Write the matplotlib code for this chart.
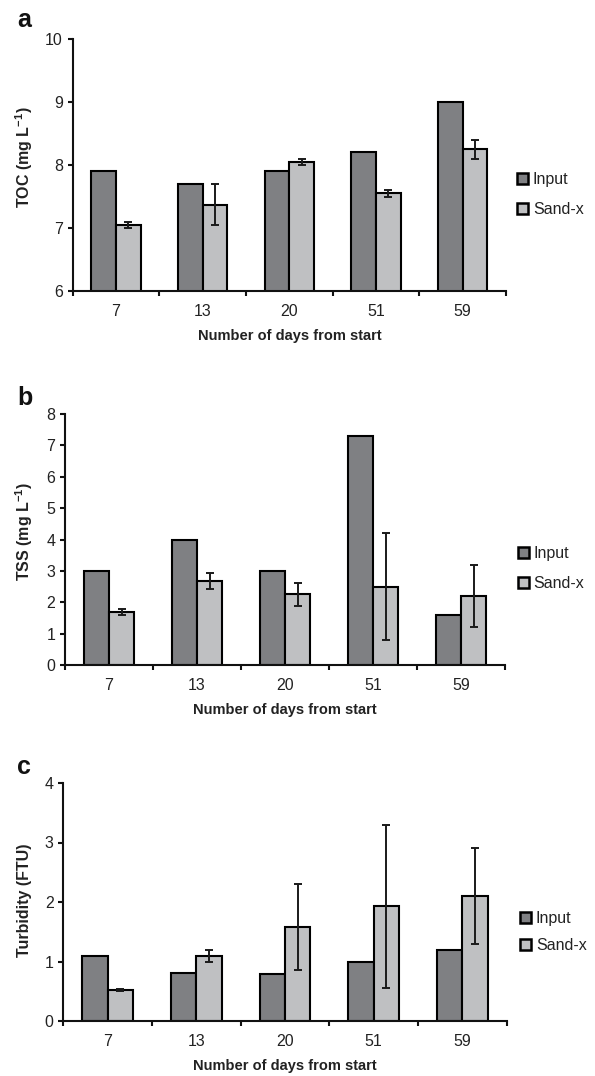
import matplotlib
matplotlib.use("Agg")
import matplotlib.pyplot as plt
import numpy as np

plt.rcParams['font.family'] = ['Liberation Sans', 'DejaVu Sans']
plt.rcParams['mathtext.fontset'] = 'custom'
plt.rcParams['mathtext.rm'] = 'Liberation Sans'
plt.rcParams['mathtext.bf'] = 'Liberation Sans:bold'

# ---- data ----
days = ['7', '13', '20', '51', '59']
series_names = ['Input', 'Sand-x']

toc_input = [7.9, 7.7, 7.9, 8.2, 9.0]
toc_sand = [7.05, 7.37, 8.05, 7.55, 8.25]
toc_sand_err = [0.05, 0.33, 0.05, 0.05, 0.15]

tss_input = [3.0, 4.0, 3.0, 7.3, 1.6]
tss_sand = [1.7, 2.67, 2.25, 2.5, 2.2]
tss_sand_err = [0.1, 0.25, 0.36, 1.7, 1.0]

turb_input = [1.1, 0.8, 0.79, 1.0, 1.2]
turb_sand = [0.52, 1.1, 1.58, 1.93, 2.1]
turb_sand_err = [0.02, 0.1, 0.73, 1.37, 0.8]

toc_ticks = [6, 7, 8, 9, 10]
tss_ticks = [0, 1, 2, 3, 4, 5, 6, 7, 8]
turb_ticks = [0, 1, 2, 3, 4]

DARK = '#7f8083'
LIGHT = '#bfc0c2'
W, H = 595, 1076

fig = plt.figure(figsize=(W / 100, H / 100), dpi=100)

def px_axes(l, r, t, b):
    return fig.add_axes([l / W, 1 - b / H, (r - l) / W, (b - t) / H])

panels = [
    dict(box=(72.7, 506, 39, 291), inp=toc_input, sand=toc_sand, err=toc_sand_err,
         ticks=toc_ticks, ylabel=r'TOC (mg L$^{\mathbf{-1}}$)', letter='a',
         letter_base=27, ylab_x=24, ylab_y=157, leg_left=517, leg_y=194.5, spacing=0.9),
    dict(box=(65, 505, 414, 665), inp=tss_input, sand=tss_sand, err=tss_sand_err,
         ticks=tss_ticks, ylabel=r'TSS (mg L$^{\mathbf{-1}}$)', letter='b',
         letter_base=405, ylab_x=24.5, ylab_y=532, leg_left=517.7, leg_y=568.5, spacing=0.9),
    dict(box=(63.3, 506.7, 783, 1021), inp=turb_input, sand=turb_sand, err=turb_sand_err,
         ticks=turb_ticks, ylabel='Turbidity (FTU)', letter='c',
         letter_base=774, ylab_x=25, ylab_y=900, leg_left=520, leg_y=932, spacing=0.75),
]

w = 0.285
x = np.arange(len(days))

for p in panels:
    l, r, t, b = p['box']
    ax = px_axes(l, r, t, b)
    ax.bar(x - w / 2, p['inp'], w, color=DARK, edgecolor='black', linewidth=1.5,
           label=series_names[0], zorder=2)
    ax.bar(x + w / 2, p['sand'], w, color=LIGHT, edgecolor='black', linewidth=1.5,
           label=series_names[1], zorder=2)
    ax.errorbar(x + w / 2, p['sand'], yerr=p['err'], fmt='none', ecolor='#1a1a1a',
                elinewidth=1.4, capsize=3.0, capthick=1.4, zorder=3)
    ax.set_xlim(-0.5, len(days) - 0.5)
    ax.set_ylim(p['ticks'][0], p['ticks'][-1])
    ax.set_yticks(p['ticks'])
    ax.set_xticks(np.arange(-0.5, len(days)), labels=[])
    ax.set_xticks(x, labels=days, minor=True)
    for s in ['top', 'right']:
        ax.spines[s].set_visible(False)
    for s in ['left', 'bottom']:
        ax.spines[s].set_linewidth(1.5)
        ax.spines[s].set_color('#111111')
    ax.tick_params(axis='y', which='major', direction='out', length=3.5, width=1.5,
                   labelsize=11.5, pad=3.5, colors='#111111', labelcolor='#222222')
    ax.tick_params(axis='x', which='major', direction='out', length=3.5, width=1.5,
                   colors='#111111')
    ax.tick_params(axis='x', which='minor', length=0, labelsize=11.5, pad=9,
                   labelcolor='#222222')
    ax.set_xlabel('Number of days from start', fontsize=10.5, fontweight='bold',
                  color='#222222')
    ax.xaxis.set_label_coords(0.5, -(45) / (b - t))
    ax.xaxis.label.set_va('center')
    ax.set_ylabel(p['ylabel'], fontsize=11.5, fontweight='bold', color='#222222')
    ax.yaxis.set_label_coords((p['ylab_x'] - l) / (r - l), (b - p['ylab_y']) / (b - t))
    ax.yaxis.label.set_va('center')

    leg = ax.legend(loc='center left',
                    bbox_to_anchor=((p['leg_left'] - l) / (r - l), (b - p['leg_y']) / (b - t)),
                    frameon=False, fontsize=11.5, handlelength=0.7, handleheight=0.7,
                    handletextpad=0.3, labelspacing=p['spacing'], borderpad=0,
                    borderaxespad=0)
    for h in leg.legend_handles:
        h.set_linewidth(1.8)
    for tx in leg.get_texts():
        tx.set_color('#222222')

    fig.text(17 / W, 1 - p['letter_base'] / H, p['letter'], fontsize=18,
             fontweight='bold', va='baseline', ha='left', color='#111111')

fig.savefig('out.png', dpi=100)
